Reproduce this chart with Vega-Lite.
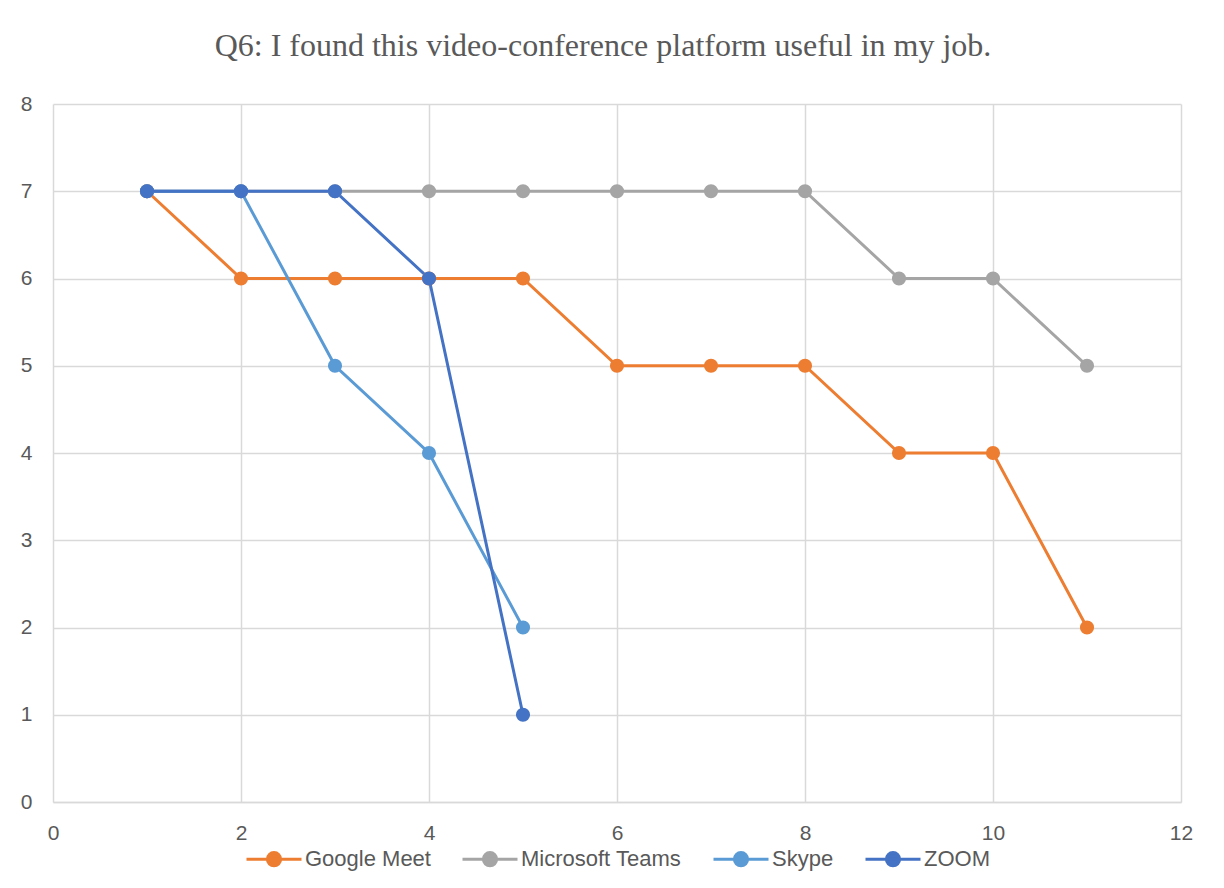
{
  "$schema": "https://vega.github.io/schema/vega-lite/v6.json",
  "width": 1128,
  "height": 698,
  "autosize": {"type": "none"},
  "padding": {"left": 53, "top": 104, "right": 43, "bottom": 86},
  "background": "white",
  "title": {
    "text": "Q6: I found this video-conference platform useful in my job.",
    "font": "Liberation Serif",
    "fontSize": 32,
    "fontWeight": "normal",
    "color": "#595959",
    "anchor": "middle",
    "offset": 30,
    "dx": -14
  },
  "data": {
    "values": [
      {"x": 1, "y": 7, "series": "Google Meet"},
      {"x": 2, "y": 6, "series": "Google Meet"},
      {"x": 3, "y": 6, "series": "Google Meet"},
      {"x": 4, "y": 6, "series": "Google Meet"},
      {"x": 5, "y": 6, "series": "Google Meet"},
      {"x": 6, "y": 5, "series": "Google Meet"},
      {"x": 7, "y": 5, "series": "Google Meet"},
      {"x": 8, "y": 5, "series": "Google Meet"},
      {"x": 9, "y": 4, "series": "Google Meet"},
      {"x": 10, "y": 4, "series": "Google Meet"},
      {"x": 11, "y": 2, "series": "Google Meet"},
      {"x": 1, "y": 7, "series": "Microsoft Teams"},
      {"x": 2, "y": 7, "series": "Microsoft Teams"},
      {"x": 3, "y": 7, "series": "Microsoft Teams"},
      {"x": 4, "y": 7, "series": "Microsoft Teams"},
      {"x": 5, "y": 7, "series": "Microsoft Teams"},
      {"x": 6, "y": 7, "series": "Microsoft Teams"},
      {"x": 7, "y": 7, "series": "Microsoft Teams"},
      {"x": 8, "y": 7, "series": "Microsoft Teams"},
      {"x": 9, "y": 6, "series": "Microsoft Teams"},
      {"x": 10, "y": 6, "series": "Microsoft Teams"},
      {"x": 11, "y": 5, "series": "Microsoft Teams"},
      {"x": 1, "y": 7, "series": "Skype"},
      {"x": 2, "y": 7, "series": "Skype"},
      {"x": 3, "y": 5, "series": "Skype"},
      {"x": 4, "y": 4, "series": "Skype"},
      {"x": 5, "y": 2, "series": "Skype"},
      {"x": 1, "y": 7, "series": "ZOOM"},
      {"x": 2, "y": 7, "series": "ZOOM"},
      {"x": 3, "y": 7, "series": "ZOOM"},
      {"x": 4, "y": 6, "series": "ZOOM"},
      {"x": 5, "y": 1, "series": "ZOOM"}
    ]
  },
  "encoding": {
    "x": {
      "field": "x",
      "type": "quantitative",
      "scale": {"domain": [0, 12], "nice": false, "zero": false},
      "axis": {
        "title": null,
        "values": [0, 2, 4, 6, 8, 10, 12],
        "grid": true,
        "gridColor": "#D9D9D9",
        "gridWidth": 1.5,
        "domain": true,
        "domainColor": "#D9D9D9",
        "domainWidth": 1.5,
        "ticks": false,
        "labelFlush": false,
        "labelFont": "Liberation Sans",
        "labelFontSize": 21,
        "labelColor": "#595959",
        "labelPadding": 20
      }
    },
    "y": {
      "field": "y",
      "type": "quantitative",
      "scale": {"domain": [0, 8], "nice": false},
      "axis": {
        "title": null,
        "values": [0, 1, 2, 3, 4, 5, 6, 7, 8],
        "grid": true,
        "gridColor": "#D9D9D9",
        "gridWidth": 1.5,
        "domain": false,
        "ticks": false,
        "labelFlush": false,
        "labelFont": "Liberation Sans",
        "labelFontSize": 21,
        "labelColor": "#595959",
        "labelPadding": 21
      }
    },
    "color": {
      "field": "series",
      "type": "nominal",
      "scale": {
        "domain": ["Google Meet", "Microsoft Teams", "Skype", "ZOOM"],
        "range": ["#ED7D31", "#A5A5A5", "#5B9BD5", "#4472C4"]
      },
      "legend": {
        "title": null,
        "orient": "none",
        "legendX": 192,
        "legendY": 726,
        "direction": "horizontal",
        "labelFont": "Liberation Sans",
        "labelFontSize": 22,
        "labelColor": "#595959",
        "labelLimit": 400,
        "symbolType": "M-1,0H1M-0.24,0a0.24,0.24 0 1,0 0.48,0a0.24,0.24 0 1,0 -0.48,0",
        "symbolSize": 3025,
        "symbolStrokeWidth": 3,
        "symbolOpacity": 1,
        "labelOffset": 2,
        "columnPadding": 25,
        "padding": 0
      }
    },
    "order": {"field": "x", "type": "quantitative"}
  },
  "layer": [
    {"mark": {"type": "line", "strokeWidth": 3}},
    {"mark": {"type": "point", "filled": true, "size": 200, "opacity": 1}}
  ],
  "config": {"view": {"stroke": null}}
}
